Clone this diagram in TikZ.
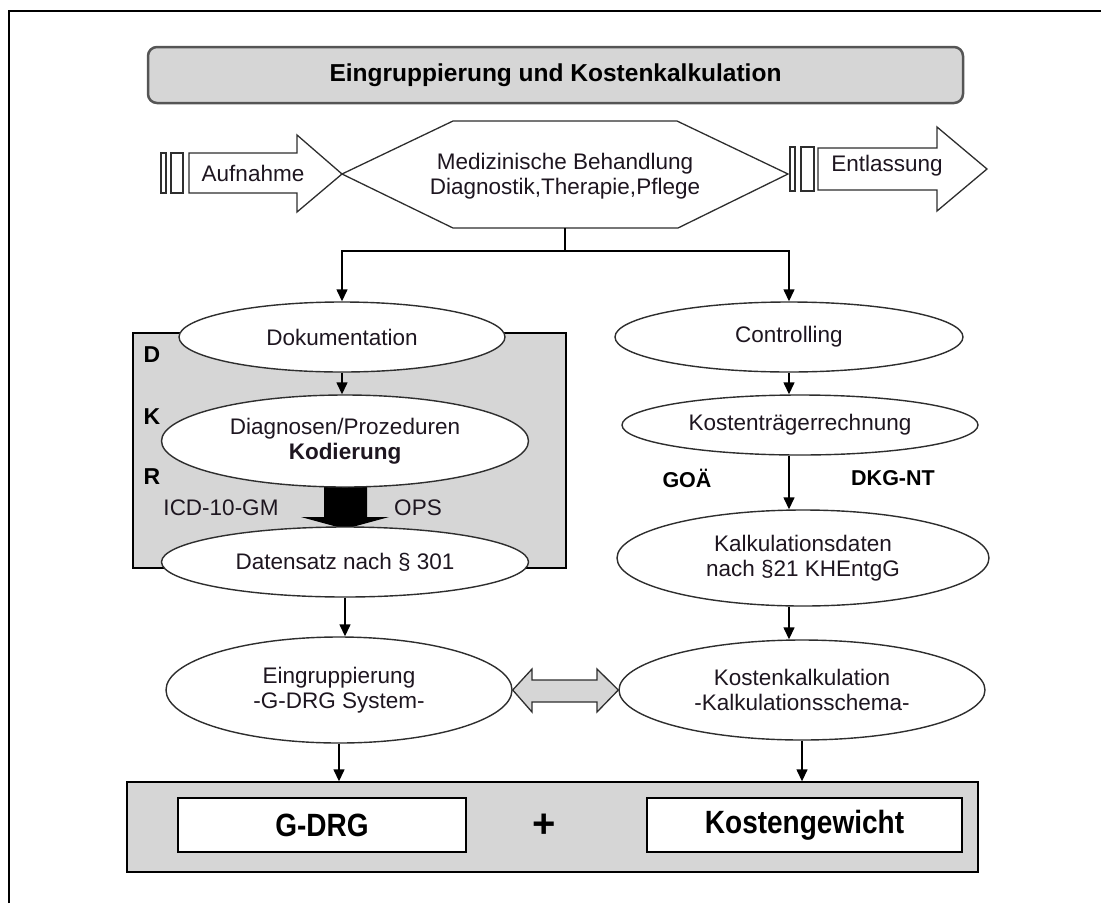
\documentclass[tikz,border=0pt]{standalone}
\usepackage{fontspec}
\setmainfont{Liberation Sans}
\usetikzlibrary{shapes.geometric,arrows.meta,calc}
\definecolor{panelgray}{HTML}{D6D6D6}
\definecolor{edgegray}{HTML}{2E2E2E}
\definecolor{titleedge}{HTML}{555555}
\definecolor{inktext}{HTML}{1E1620}

\begin{document}
\begin{tikzpicture}[x=1pt,y=-1pt,
  txt/.style={font=\fontsize{22.5}{25}\selectfont, text=inktext, inner sep=0pt, align=center},
  letter/.style={font=\fontsize{23}{26}\selectfont\bfseries, text=black, inner sep=0pt},
  tag/.style={font=\fontsize{21.5}{24}\selectfont\bfseries, text=black, inner sep=0pt},
  oval/.style={ellipse, draw=edgegray, line width=1.4pt, fill=white, inner sep=0pt,
    align=center, font=\fontsize{22.5}{25.5}\selectfont, text=inktext},
  shapeedge/.style={draw=edgegray, line width=1.3pt, fill=white},
  panel/.style={rectangle, draw=black, line width=1.4pt, fill=panelgray, inner sep=0pt},
  resultbox/.style={rectangle, draw=black, line width=1.4pt, fill=white, inner sep=0pt,
    font=\fontsize{28}{30}\selectfont\bfseries},
  link/.style={draw=black, line width=1.4pt, -{Triangle[length=12pt,width=11pt]}},
  plainline/.style={draw=black, line width=1.4pt}
]
\useasboundingbox (0,0) rectangle (1101,903);

% frame lines along top and left edge
\draw[line width=2.5pt] (9,903) -- (9,11) -- (1101,11);

% heading bar
\node[draw=titleedge, line width=2.5pt, fill=panelgray, rounded corners=9pt,
  minimum width=815pt, minimum height=56pt, inner sep=0pt,
  font=\fontsize{24.5}{28}\selectfont\bfseries] (title) at (555.5,75)
  {Eingruppierung und Kostenkalkulation};

% admission arrow
\draw[shapeedge] (161,153) rectangle (166,193);
\draw[shapeedge] (171,153) rectangle (183,193);
\draw[shapeedge] (189,153) -- (297,153) -- (297,135) -- (342,174) -- (297,212)
  -- (297,193) -- (189,193) -- cycle;
\node[txt] (aufn) at (253,173) {Aufnahme};

% treatment hexagon
\draw[shapeedge] (342,174) -- (453,121) -- (677,121) -- (788,174) -- (678,228)
  -- (453,228) -- cycle;
\coordinate (hexbot) at (565,228);
\node[txt] (treat) at (565,176) {Medizinische Behandlung\\Diagnostik,Therapie,Pflege};

% discharge arrow
\draw[shapeedge] (790,147) rectangle (795,191);
\draw[shapeedge] (801,147) rectangle (814,191);
\draw[shapeedge] (818,148) -- (937,148) -- (937,127) -- (987,169) -- (937,211)
  -- (937,190) -- (818,190) -- cycle;
\node[txt] (entl) at (887,166) {Entlassung};

% coding panel
\node[panel, minimum width=433pt, minimum height=235pt] (dkr) at (349.5,450.5) {};
\node[letter] (lD) at (152,355) {D};
\node[letter] (lK) at (152,417) {K};
\node[letter] (lR) at (152,477) {R};
\node[txt] (icd) at (221,508) {ICD-10-GM};
\node[txt] (ops) at (418,508) {OPS};

% heavy coding arrow
\fill[black] (324,487) -- (367,487) -- (367,517) -- (389,517) -- (345,529)
  -- (301,517) -- (324,517) -- cycle;

% left column
\node[oval, minimum width=326pt, minimum height=70pt] (doc) at (342,337) {Dokumentation};
\node[oval, minimum width=367pt, minimum height=92pt] (diag) at (345,441)
  {Diagnosen/Prozeduren\\\textbf{Kodierung}};
\node[oval, minimum width=367pt, minimum height=70pt] (dat) at (345,562)
  {Datensatz nach § 301};
\node[oval, minimum width=346pt, minimum height=106pt] (eingr) at (339,690)
  {Eingruppierung\\-G-DRG System-};

% right column
\node[oval, minimum width=348pt, minimum height=70pt] (ctrl) at (789,337) {Controlling};
\node[oval, minimum width=356pt, minimum height=60pt] (ktr) at (800,425)
  {Kostenträgerrechnung};
\node[tag] (goae) at (687,478) {GOÄ};
\node[tag] (dkgnt) at (893,478) {DKG-NT};
\node[oval, minimum width=372pt, minimum height=96pt] (kalk) at (803,558)
  {Kalkulationsdaten\\nach §21 KHEntgG};
\node[oval, minimum width=366pt, minimum height=100pt] (kkalk) at (802,690)
  {Kostenkalkulation\\-Kalkulationsschema-};

% two-way link between grouping and costing
\draw[draw=edgegray, line width=1.3pt, fill=panelgray] (eingr.east) -- (532,669)
  -- (532,680) -- (597,680) -- (597,669) -- (kkalk.west) -- (597,712) -- (597,702)
  -- (532,702) -- (532,712) -- cycle;

% result panel
\node[panel, minimum width=851pt, minimum height=90pt] (result) at (552.5,827) {};
\node[resultbox, minimum width=288pt, minimum height=54pt] (gdrg) at (322,825)
  {\scalebox{1}[1.15]{G-DRG}};
\node[resultbox, minimum width=315pt, minimum height=54pt] (kgew) at (804.5,825)
  {\scalebox{1}[1.15]{Kostengewicht}};
\node[inner sep=0pt, font=\fontsize{40}{40}\selectfont\bfseries] (plus) at (544,826) {+};

% connectors
\draw[plainline] (hexbot) -- (565,251) coordinate (split);
\draw[link] (split) -| (doc.north);
\draw[link] (split) -| (ctrl.north);
\draw[link] (doc.south) -- (doc.south |- diag.north);
\draw[link] (dat.south) -- (dat.south |- eingr.north);
\draw[link] (ctrl.south) -- (ctrl.south |- ktr.north);
\draw[link] (ctrl.south |- ktr.south) -- (ctrl.south |- kalk.north);
\draw[link] (ctrl.south |- kalk.south) -- (ctrl.south |- kkalk.north);
\draw[link] (eingr.south) -- (eingr.south |- result.north);
\draw[link] (kkalk.south) -- (kkalk.south |- result.north);
\end{tikzpicture}
\end{document}
